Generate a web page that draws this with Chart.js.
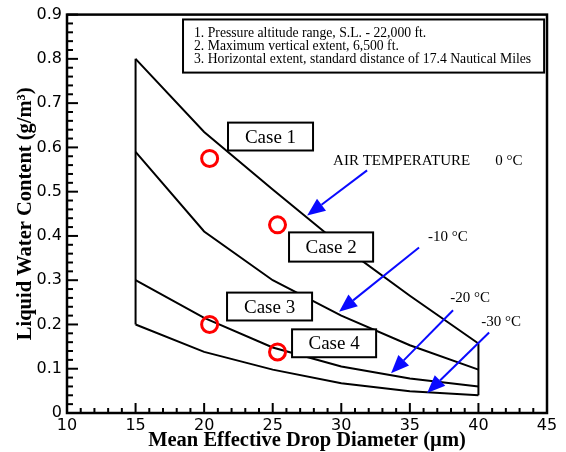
<!DOCTYPE html>
<html>
<head>
<meta charset="utf-8">
<script src="https://cdn.jsdelivr.net/npm/chart.js@4"></script>
<style>
html, body { margin: 0; padding: 0; background: #ffffff; }
</style>
</head>
<body>
<canvas id="chartLWC" width="566" height="452"></canvas>
<script>
// curve data
const diameters = [15, 20, 25, 30, 35, 40];
const lwc0 = [0.80, 0.635, 0.505, 0.378, 0.265, 0.157];
const lwc10 = [0.59, 0.41, 0.30, 0.22, 0.153, 0.098];
const lwc20 = [0.30, 0.215, 0.148, 0.105, 0.078, 0.06];
const lwc30 = [0.20, 0.138, 0.098, 0.067, 0.049, 0.04];

// test cases (red circles)
const caseNames = ['Case 1', 'Case 2', 'Case 3', 'Case 4'];
const caseX = [20.4, 25.35, 20.4, 25.35];
const caseY = [0.575, 0.425, 0.2, 0.138];

const tempLabels = ['0 °C', '-10 °C', '-20 °C', '-30 °C'];
const notes = [
    '1. Pressure altitude range, S.L. - 22,000 ft.',
    '2. Maximum vertical extent, 6,500 ft.',
    '3. Horizontal extent, standard distance of 17.4 Nautical Miles'
];

// annotation placement in data units
const noteBox = [18.46, 44.79, 0.889, 0.769];
const caseBoxes = [
    [21.74, 27.94, 0.656, 0.593],
    [26.19, 32.32, 0.408, 0.342],
    [21.67, 27.87, 0.272, 0.209],
    [26.41, 32.54, 0.189, 0.126]
];
const arrows = [
    [31.88, 0.548, 27.51, 0.446],
    [35.67, 0.374, 29.84, 0.229],
    [38.15, 0.232, 33.63, 0.090],
    [40.78, 0.182, 36.26, 0.045]
];
const tempPos = [[41.22, 0.570], [36.33, 0.397], [37.94, 0.259], [40.2, 0.205]];

const toPts = ys => diameters.map((d, i) => ({ x: d, y: ys[i] }));
const last = diameters.length - 1;

const lineStyle = {
    borderColor: '#000000',
    borderWidth: 2,
    pointRadius: 0,
    showLine: true,
    fill: false,
    tension: 0
};

const annotations = {
    id: 'annotations',
    afterDatasetsDraw(chart) {
        const ctx = chart.ctx;
        const xs = chart.scales.x;
        const ys = chart.scales.y;
        const a = chart.chartArea;
        const px = v => xs.getPixelForValue(v);
        const py = v => ys.getPixelForValue(v);

        ctx.save();
        // inward ticks on bottom and left
        ctx.strokeStyle = '#000';
        ctx.lineWidth = 2;
        for (let v = 10; v <= 45; v += 1) {
            const len = v % 5 === 0 ? 10 : 5;
            ctx.beginPath();
            ctx.moveTo(px(v), a.bottom);
            ctx.lineTo(px(v), a.bottom - len);
            ctx.stroke();
        }
        for (let k = 0; k <= 45; k++) {
            const len = k % 5 === 0 ? 11 : 6;
            const y = py(k * 0.02);
            ctx.beginPath();
            ctx.moveTo(a.left, y);
            ctx.lineTo(a.left + len, y);
            ctx.stroke();
        }
        ctx.lineWidth = 2.5;
        ctx.strokeRect(a.left, a.top, a.right - a.left, a.bottom - a.top);

        // notes box
        ctx.lineWidth = 2;
        const nx0 = px(noteBox[0]), nx1 = px(noteBox[1]), ny0 = py(noteBox[2]), ny1 = py(noteBox[3]);
        ctx.fillStyle = '#fff';
        ctx.fillRect(nx0, ny0, nx1 - nx0, ny1 - ny0);
        ctx.strokeRect(nx0, ny0, nx1 - nx0, ny1 - ny0);
        ctx.fillStyle = '#000';
        ctx.font = '13.7px "Liberation Serif"';
        ctx.textBaseline = 'middle';
        ctx.textAlign = 'left';
        notes.forEach((t, i) => ctx.fillText(t, nx0 + 11, ny0 + 14 + i * 13));

        // case boxes
        ctx.font = '19px "Liberation Serif"';
        ctx.textAlign = 'center';
        caseBoxes.forEach((b, i) => {
            const x0 = px(b[0]), x1 = px(b[1]), y0 = py(b[2]), y1 = py(b[3]);
            ctx.fillStyle = '#fff';
            ctx.fillRect(x0, y0, x1 - x0, y1 - y0);
            ctx.strokeRect(x0, y0, x1 - x0, y1 - y0);
            ctx.fillStyle = '#000';
            ctx.fillText(caseNames[i], (x0 + x1) / 2, (y0 + y1) / 2 + 1);
        });

        // temperature labels
        ctx.font = '15px "Liberation Serif"';
        ctx.textAlign = 'left';
        ctx.fillText('AIR TEMPERATURE', px(29.4), py(0.570));
        tempLabels.forEach((t, i) => ctx.fillText(t, px(tempPos[i][0]), py(tempPos[i][1])));

        // blue arrows
        ctx.strokeStyle = '#0a0aff';
        ctx.fillStyle = '#0a0aff';
        ctx.lineWidth = 2;
        arrows.forEach(r => {
            const x0 = px(r[0]), y0 = py(r[1]), x1 = px(r[2]), y1 = py(r[3]);
            const ang = Math.atan2(y1 - y0, x1 - x0);
            const hl = 18, hw = 7.5;
            const bx = x1 - hl * Math.cos(ang), by = y1 - hl * Math.sin(ang);
            ctx.beginPath();
            ctx.moveTo(x0, y0);
            ctx.lineTo(bx, by);
            ctx.stroke();
            ctx.beginPath();
            ctx.moveTo(x1, y1);
            ctx.lineTo(bx + hw * Math.sin(ang), by - hw * Math.cos(ang));
            ctx.lineTo(bx - hw * Math.sin(ang), by + hw * Math.cos(ang));
            ctx.closePath();
            ctx.fill();
        });

        // red circles on top
        ctx.strokeStyle = '#ff0000';
        ctx.lineWidth = 3;
        caseX.forEach((x, i) => {
            ctx.beginPath();
            ctx.arc(px(x), py(caseY[i]), 8, 0, Math.PI * 2);
            ctx.stroke();
        });
        ctx.restore();
    }
};

const ctx = document.getElementById('chartLWC').getContext('2d');
const chart = new Chart(ctx, {
    type: 'scatter',
    data: {
        datasets: [
            { label: '0 °C', data: toPts(lwc0), ...lineStyle },
            { label: '-10 °C', data: toPts(lwc10), ...lineStyle },
            { label: '-20 °C', data: toPts(lwc20), ...lineStyle },
            { label: '-30 °C', data: toPts(lwc30), ...lineStyle },
            { label: 'left edge', data: [{ x: diameters[0], y: lwc30[0] }, { x: diameters[0], y: lwc0[0] }], ...lineStyle },
            { label: 'right edge', data: [{ x: diameters[last], y: lwc30[last] }, { x: diameters[last], y: lwc0[last] }], ...lineStyle }
        ]
    },
    options: {
        responsive: false,
        animation: false,
        layout: { padding: { top: 14, right: 19, left: 0, bottom: 0 } },
        plugins: {
            legend: { display: false },
            tooltip: { enabled: false }
        },
        scales: {
            x: {
                type: 'linear',
                min: 10,
                max: 45,
                afterFit: s => { s.height = 39; },
                grid: { display: false, drawTicks: false },
                border: { display: false },
                ticks: {
                    stepSize: 5,
                    padding: 3,
                    color: '#000',
                    font: { family: '"DejaVu Sans"', size: 16 }
                },
                title: {
                    display: true,
                    text: 'Mean Effective Drop Diameter (µm)',
                    color: '#000',
                    padding: { top: 0, bottom: -1 },
                    font: { family: '"Liberation Serif", "Times New Roman"', size: 20.5, weight: 'bold' }
                }
            },
            y: {
                type: 'linear',
                min: 0,
                max: 0.9,
                afterFit: s => { s.width = 67; },
                grid: { display: false, drawTicks: false },
                border: { display: false },
                ticks: {
                    stepSize: 0.1,
                    padding: 5,
                    color: '#000',
                    font: { family: '"DejaVu Sans"', size: 16 },
                    callback: v => v === 0 ? '0' : v.toFixed(1)
                },
                title: {
                    display: true,
                    text: 'Liquid Water Content (g/m³)',
                    color: '#000',
                    padding: { top: 13, bottom: 0 },
                    font: { family: '"Liberation Serif", "Times New Roman"', size: 20.5, weight: 'bold' }
                }
            }
        }
    },
    plugins: [annotations]
});
</script>
</body>
</html>
